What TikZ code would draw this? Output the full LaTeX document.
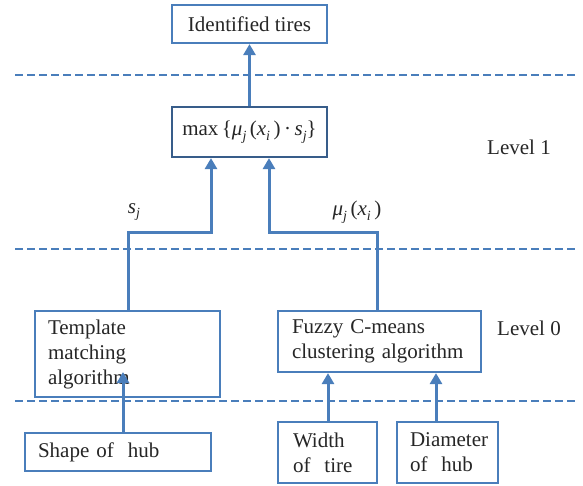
\documentclass[tikz,border=0pt]{standalone}
\usepackage{fontspec}
\setmainfont{Liberation Serif}
\usetikzlibrary{arrows.meta}

\definecolor{lineblue}{HTML}{4A7EBB}
\definecolor{darkblue}{HTML}{385D8A}
\definecolor{textgray}{HTML}{262626}

% index set low beside its symbol
\newcommand{\lowidx}[1]{\raisebox{-0.5ex}{\fontsize{14}{14}\selectfont\itshape #1}}

\begin{document}
\begin{tikzpicture}[x=1pt,y=-1pt,
  every node/.style={font=\fontsize{21}{25}\selectfont, text=textgray},
  box/.style={draw=lineblue, line width=2.2pt, fill=white, rectangle, inner ysep=0pt},
  leftbox/.style={box, align=left},
  level/.style={dashed, dash pattern=on 8pt off 4pt, draw=lineblue, line width=2pt},
  link/.style={draw=lineblue, line width=3pt},
  feed/.style={link, -{Triangle[width=12pt,length=11pt]}},
  tag/.style={inner sep=0pt}
]
\useasboundingbox (0,0) rectangle (583,486);

% level separators
\draw[level] (15,75) -- (575,75);
\draw[level] (15,249) -- (575,249);
\draw[level] (15,401) -- (575,401);

% boxes
\node[box, minimum width=155pt, minimum height=38pt] (ident) at (249.5,24) {Identified tires};
\node[box, draw=darkblue, minimum width=155pt, minimum height=50pt] (fuse) at (249.5,132)
  {max\,\{\textit{μ}\lowidx{j}\,(\textit{x}\lowidx{i}\,)\,·\,\textit{s}\lowidx{j}\}};

\node[leftbox, minimum width=185pt, minimum height=86pt, text width=159pt, inner xsep=13pt] (tmpl) at (127.5,354)
  {Template\\ matching\\ algorithm};
\node[leftbox, minimum width=203pt, minimum height=61pt, text width=175pt, inner xsep=14pt] (fcm) at (379.5,341.5)
  {Fuzzy C-means\\ clustering algorithm};

\node[leftbox, minimum width=186pt, minimum height=38pt, text width=160pt, inner xsep=13pt] (shape) at (118,452)
  {Shape of~~hub};
\node[leftbox, minimum width=99pt, minimum height=61pt, text width=69pt, inner xsep=15pt] (width) at (327.5,452.5)
  {Width\\ of~~tire};
\node[leftbox, minimum width=101pt, minimum height=61pt, text width=75pt, inner xsep=13pt] (diam) at (447.5,452.5)
  {Diameter\\ of~~hub};

% level names and signal labels
\node[tag] (lvone) at (519,147) {Level 1};
\node[tag] (lvzero) at (529,328) {Level 0};
\node[tag] (slab) at (134,212) {\textit{s}\lowidx{j}};
\node[tag] (mulab) at (357,212) {\textit{μ}\lowidx{j}\,(\textit{x}\lowidx{i}\,)};

% connectors
\draw[feed] (fuse.north) -- (ident.south);
\draw[feed] (tmpl.north -| 128,0) |- (211,233) -- (211,0 |- fuse.south);
\draw[feed] (fcm.north -| 377,0) |- (269,233) -- (269,0 |- fuse.south);

\coordinate (tmplin) at (123,372);
\draw[feed] (shape.north -| tmplin) -- (tmplin);
\draw[feed] (width.north -| 328,0) -- (328,0 |- fcm.south);
\draw[feed] (diam.north -| 436,0) -- (436,0 |- fcm.south);
\end{tikzpicture}
\end{document}
